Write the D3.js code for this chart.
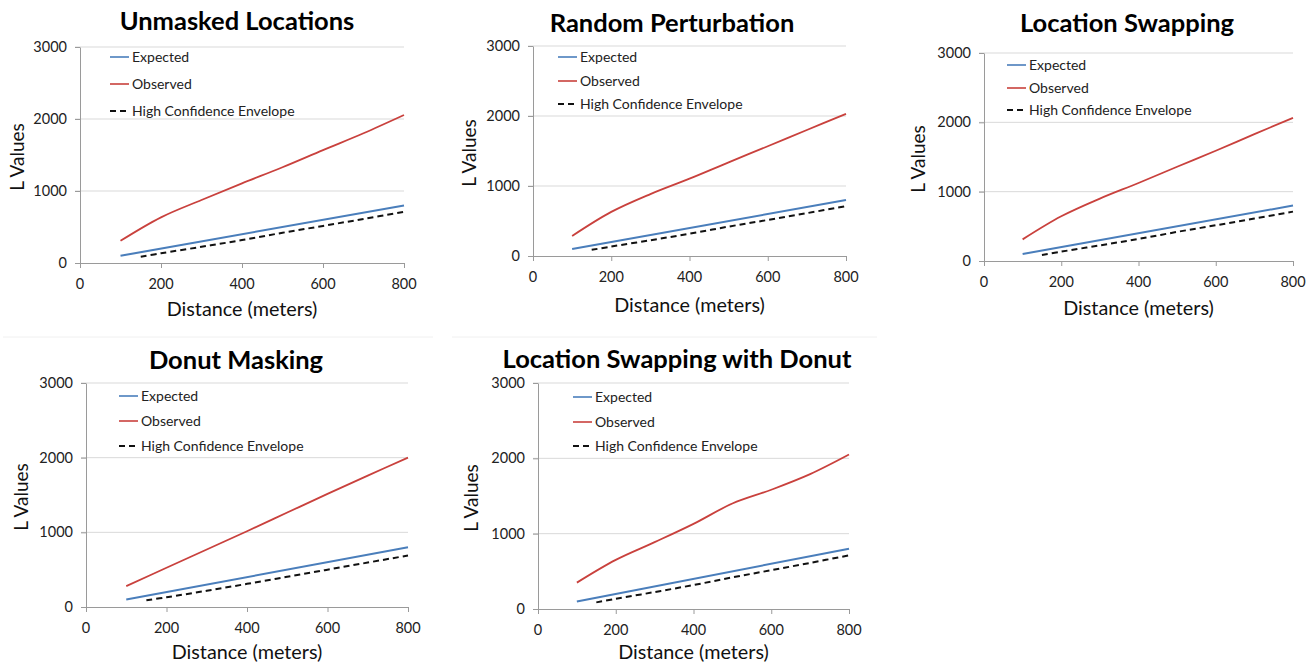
<!DOCTYPE html>
<html>
<head>
<meta charset="utf-8">
<script src="https://cdn.jsdelivr.net/npm/d3@7"></script>
<style>
  html, body { margin: 0; padding: 0; background: #fff; }
  svg { display: block; font-family: Lato, "Open Sans", sans-serif; }
  .grid line { stroke: #d9d9d9; stroke-width: 1; }
  .axis path, .axis line { stroke: #9a9a9a; }
  .tick-label { font-size: 14.5px; fill: #222; }
</style>
</head>
<body>
<svg id="chart" width="1315" height="665"></svg>
<script>
// ---- data ----
const titles = ['Unmasked Locations', 'Random Perturbation', 'Location Swapping', 'Donut Masking', 'Location Swapping with Donut'];
const legendLabels = ['Expected', 'Observed', 'High Confidence Envelope'];
const xTicks = [0, 200, 400, 600, 800];
const yTicks = [0, 1000, 2000, 3000];

const expectedDist = [100, 800];
const expectedL = [100, 800];

const envelopeDist = [150, 200, 300, 400, 500, 600, 700, 800];
const envelopeL = [88, 135, 225, 318, 420, 515, 612, 712];
const envelopeLDonut = [90, 130, 218, 310, 405, 500, 595, 690];

const obsDist = [100, 200, 300, 400, 500, 600, 700, 800];
const obsUnmasked = [308, 634, 875, 1106, 1330, 1568, 1802, 2055];
const obsSwap = [312, 645, 900, 1125, 1360, 1590, 1830, 2065];
const obsRandom = [286, 630, 885, 1105, 1338, 1568, 1800, 2030];
const obsDonut = [280, 525, 770, 1015, 1265, 1515, 1760, 2000];
const obsSwapDonut = [350, 652, 887, 1130, 1400, 1583, 1790, 2050];

const observedSets = [obsUnmasked, obsRandom, obsSwap, obsDonut, obsSwapDonut];
const envelopeSets = [envelopeL, envelopeL, envelopeL, envelopeLDonut, envelopeL];

// ---- layout of each small chart (pixels) ----
const layout = [
  { l: 80,  r: 404,  t: 47,  b: 263, tx: 237,  ty: 21,  xly: 309, yl: 17,  lgX: 110,  rows: [57, 84, 111] },
  { l: 533, r: 846,  t: 46,  b: 256, tx: 672,  ty: 23,  xly: 305, yl: 469, lgX: 558,  rows: [57, 81, 104] },
  { l: 984, r: 1293, t: 53,  b: 261, tx: 1127, ty: 23,  xly: 308, yl: 918, lgX: 1007, rows: [65, 88, 110] },
  { l: 86,  r: 408,  t: 383, b: 607, tx: 236,  ty: 360, xly: 652, yl: 21,  lgX: 119,  rows: [396, 421, 446] },
  { l: 538, r: 849,  t: 383, b: 609, tx: 677,  ty: 359, xly: 652, yl: 471, lgX: 573,  rows: [397, 422, 446] }
];

const BLUE = '#4a7ebb', RED = '#c9413d';
const svg = d3.select('#chart');

// faint separators above the lower row
svg.append('line').attr('x1', 3).attr('x2', 433).attr('y1', 337).attr('y2', 337).attr('stroke', '#f0f0f0');
svg.append('line').attr('x1', 452).attr('x2', 877).attr('y1', 337).attr('y2', 337).attr('stroke', '#f0f0f0');

titles.forEach((title, i) => {
  const L = layout[i];
  const x = d3.scaleLinear().domain([0, 800]).range([L.l, L.r]);
  const y = d3.scaleLinear().domain([0, 3000]).range([L.b, L.t]);
  const g = svg.append('g');

  // gridlines
  g.append('g').attr('class', 'grid')
    .selectAll('line').data(yTicks.slice(1)).join('line')
      .attr('x1', L.l - 5).attr('x2', L.r).attr('y1', d => y(d)).attr('y2', d => y(d));

  // axes
  g.append('g').attr('class', 'axis')
    .attr('transform', `translate(0,${L.b})`)
    .call(d3.axisBottom(x).tickValues(xTicks).tickSize(5).tickSizeOuter(0).tickFormat(''));
  g.append('g').attr('class', 'axis')
    .attr('transform', `translate(${L.l},0)`)
    .call(d3.axisLeft(y).tickValues(yTicks).tickSize(5).tickSizeOuter(0).tickFormat(''));

  // tick labels
  g.selectAll('.xl').data(xTicks).join('text')
    .attr('class', 'tick-label').attr('text-anchor', 'middle')
    .attr('x', d => x(d)).attr('y', L.b + 21).attr('dy', '0.35em').text(d => d);
  g.selectAll('.yl').data(yTicks).join('text')
    .attr('class', 'tick-label').attr('text-anchor', 'end')
    .attr('x', L.l - 13).attr('y', d => y(d)).attr('dy', '0.35em').text(d => d);

  // axis titles
  g.append('text').attr('text-anchor', 'middle')
    .attr('x', (L.l + L.r) / 2).attr('y', L.xly).attr('dy', '0.35em')
    .attr('font-size', 19.8).attr('fill', '#111').text('Distance (meters)');
  g.append('text').attr('text-anchor', 'middle')
    .attr('transform', `translate(${L.yl},${(L.t + L.b) / 2 + 2}) rotate(-90)`)
    .attr('dy', '0.35em').attr('font-size', 19).attr('fill', '#111').text('L Values');

  // chart title
  g.append('text').attr('text-anchor', 'middle')
    .attr('x', L.tx).attr('y', L.ty).attr('dy', '0.36em')
    .attr('font-size', 25.5).attr('font-weight', 'bold').attr('fill', '#000').text(title);

  const line = d3.line().x(d => x(d[0])).y(d => y(d[1])).curve(d3.curveCatmullRom.alpha(0.5));

  // envelope
  g.append('path').datum(d3.zip(envelopeDist, envelopeSets[i]))
    .attr('fill', 'none').attr('stroke', '#111').attr('stroke-width', 2)
    .attr('stroke-dasharray', '6,4').attr('d', line);
  // expected
  g.append('path').datum(d3.zip(expectedDist, expectedL))
    .attr('fill', 'none').attr('stroke', BLUE).attr('stroke-width', 2).attr('d', line);
  // observed
  g.append('path').datum(d3.zip(obsDist, observedSets[i]))
    .attr('fill', 'none').attr('stroke', RED).attr('stroke-width', 1.8).attr('d', line);

  // legend
  const styles = [
    { c: BLUE, dash: null }, { c: RED, dash: null }, { c: '#111', dash: '6,4' }
  ];
  legendLabels.forEach((lab, k) => {
    const ly = L.rows[k];
    g.append('line').attr('x1', L.lgX).attr('x2', L.lgX + 19).attr('y1', ly).attr('y2', ly)
      .attr('stroke', styles[k].c).attr('stroke-width', k === 2 ? 2 : 1.6)
      .attr('stroke-dasharray', styles[k].dash);
    g.append('text').attr('x', L.lgX + 22).attr('y', ly).attr('dy', '0.35em')
      .attr('font-size', 14).attr('fill', '#222').text(lab);
  });
});
</script>
</body>
</html>
